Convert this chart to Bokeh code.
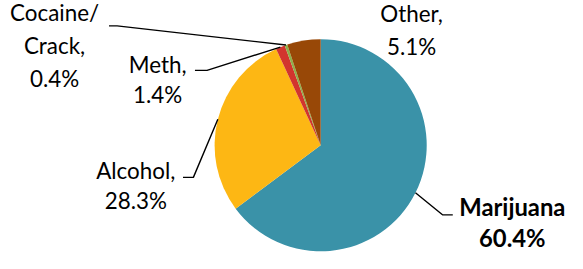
import math
from bokeh.plotting import figure
from bokeh.models import ColumnDataSource, Range1d
from bokeh.core.properties import value
from bokeh.embed import file_html
from bokeh.resources import INLINE

# ---- data ----
categories = ["Marijuana", "Alcohol", "Meth", "Cocaine/Crack", "Other"]
shares = [64.8, 28.3, 1.4, 0.4, 5.1]          # slice sizes as drawn
label_lines = [["Marijuana", "60.4%"],
               ["Alcohol,", "28.3%"],
               ["Meth,", "1.4%"],
               ["Cocaine/", "Crack,", "0.4%"],
               ["Other,", "5.1%"]]
colors = ["#3A92A8", "#FDB714", "#D2352E", "#8DB04A", "#984807"]

# ---- layout ----
W, H = 567, 253
S, OX, OY = 0.973, 1.5, -8.0      # fit the reference layout into the canvas
def fx(sx):
    return sx * S + OX
def fy(sy):
    return H - (sy * S + OY)

CX, CY, R = 327.5, 157.0, 109.0
FONT = "Lato"
FS = 23 * S
FS_BOLD = 24.5 * S
label_pos = [(524.5, [220, 252]),
             (137.5, [183, 214]),
             (160, [74, 105]),
             (54, [21, 54, 88]),
             (421, [22, 56])]
bold = [True, False, False, False, False]
# leader lines: (outer end x, elbow x, y)
elbows = [(463.3, 452.7, 228.5),
          (186, 196.7, 190),
          (198.3, 210.7, 80),
          (110, 118.3, 34.3),
          None]

p = figure(width=W, height=H, output_backend="svg", toolbar_location=None,
           x_range=Range1d(0, W), y_range=Range1d(0, H), min_border=0)
p.axis.visible = False
p.grid.visible = False
p.outline_line_color = None
p.background_fill_color = "white"
p.border_fill_color = "white"

total = sum(shares)
starts, ends, mids = [], [], []
cum = 0.0
for s in shares:
    a0 = cum / total
    cum += s
    a1 = cum / total
    starts.append(math.pi / 2 - 2 * math.pi * a0)
    ends.append(math.pi / 2 - 2 * math.pi * a1)
    mids.append(2 * math.pi * (a0 + a1) / 2)

src = ColumnDataSource(dict(x=[fx(CX)] * len(shares), y=[fy(CY)] * len(shares),
                            start=starts, end=ends, color=colors, cat=categories))
p.wedge(x="x", y="y", radius=R * S, start_angle="start", end_angle="end",
        direction="clock", fill_color="color", line_color=None, source=src)

# leader lines
for i, e in enumerate(elbows):
    if e is None:
        continue
    th = mids[i]
    ex = CX + R * math.sin(th)
    ey = CY - R * math.cos(th)
    ox, bx, by = e
    p.line([fx(ox), fx(bx), fx(ex)], [fy(by), fy(by), fy(ey)],
           line_color="black", line_width=1.4)

# labels
for i, (lx, ys) in enumerate(label_pos):
    for line, ly in zip(label_lines[i], ys):
        p.text(x=[fx(lx)], y=[fy(ly)], text=[line], text_font=value(FONT),
               text_font_size=f"{FS_BOLD if bold[i] else FS:.1f}px",
               text_align="center", text_baseline="middle",
               text_color="black", text_font_style="bold" if bold[i] else "normal")

open("out.html", "w").write(file_html(p, INLINE))
